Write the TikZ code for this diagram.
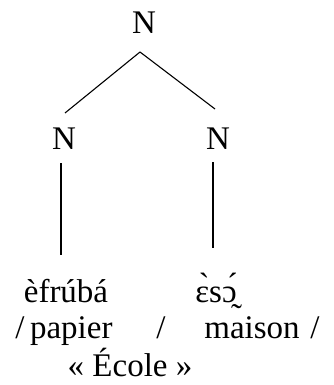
\documentclass[tikz,border=0pt]{standalone}
\usepackage{fontspec}
\setmainfont{Liberation Serif}
\usetikzlibrary{calc}
\begin{document}
\begin{tikzpicture}[x=1pt,y=-1pt,
  lbl/.style={inner sep=0pt,anchor=base,font=\fontsize{33}{38}\selectfont},
  edge/.style={line width=1.1pt}]
\useasboundingbox (0,0) rectangle (334,385);
% category labels
\node[lbl] (top) at (144,34) {N};
\node[lbl] (nl) at (64,149) {N};
\node[lbl] (nr) at (218,149) {N};
% leaf words and glosses
\node[lbl] (wl) at (66,302) {èfrúbá};
\node[lbl] (wr) at (216,302) {ɛ̀sɔ̰́};
\node[lbl] (g1) at (64,338) {/\,papier};
\node[lbl] (g2) at (161,338) {/};
\node[lbl] (g3) at (252,338) {maison};
\node[lbl] (g4) at (315,338) {/};
\node[lbl] (g5) at (130,376) {« École »};
% branches
\draw[edge] ($(top.base)+(-4,18)$) -- ($(nl.base)+(1,-36)$);
\draw[edge] ($(top.base)+(-4,18)$) -- ($(nr.base)+(-3,-40)$);
\draw[edge] ($(nl.base)+(-3,14)$) -- ($(wl.base)+(-5,-47)$);
\draw[edge] ($(nr.base)+(-5,13)$) -- ($(wr.base)+(-3,-54)$);
\end{tikzpicture}
\end{document}
